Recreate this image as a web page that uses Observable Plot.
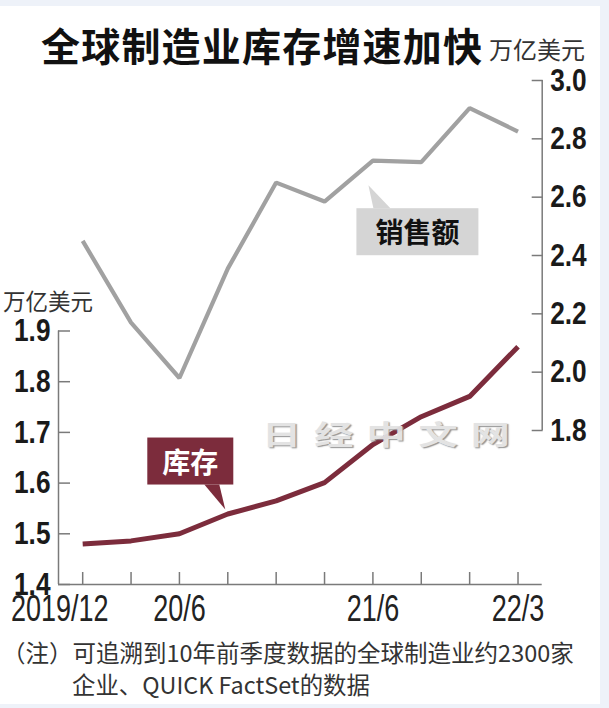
<!DOCTYPE html>
<html><head><meta charset="utf-8">
<script src="https://cdn.jsdelivr.net/npm/d3@7"></script>
<script src="https://cdn.jsdelivr.net/npm/@observablehq/plot@0.6"></script>
<style>
html,body{margin:0;padding:0;background:#eef2f9;width:609px;height:708px;overflow:hidden;}
#panel{position:absolute;left:0;top:6px;width:600px;height:698px;background:#fff;}
.cjk{font-family:"Noto Sans CJK SC","Noto Sans",sans-serif;position:absolute;white-space:nowrap;line-height:1;}
#title{left:41px;top:25px;font-size:39px;font-weight:700;color:#111;letter-spacing:1.2px;}
#unitR{left:489px;top:37px;font-size:24px;color:#333;}
#unitL{left:3px;top:289px;font-size:22.5px;color:#333;}
#chart{position:absolute;left:0;top:70px;width:600px;height:570px;}
#chart svg{position:absolute;left:0;top:0;}
#wm{left:262px;top:420px;font-size:27px;font-weight:700;color:#e2e2e2;letter-spacing:9px;transform:scaleX(1.45);transform-origin:0 0;text-shadow:1px 1px 1px #8c8c8c;opacity:0.95;}
#note1{left:2px;top:641px;font-size:23.5px;color:#333;}
#note2{left:72px;top:673px;font-size:23.4px;color:#333;}
</style></head><body>
<div id="panel"></div>
<div id="chart"></div>
<div id="title" class="cjk">全球制造业库存增速加快</div>
<div id="unitR" class="cjk">万亿美元</div>
<div id="unitL" class="cjk">万亿美元</div>
<div id="wm" class="cjk">日经中文网</div>
<div id="note1" class="cjk">（注）可追溯到10年前季度数据的全球制造业约2300家</div>
<div id="note2" class="cjk">企业、QUICK FactSet的数据</div>
<script>
// ---- data ----
const quarters = ["2019/12","20/3","20/6","20/9","20/12","21/3","21/6","21/9","21/12","22/3"];
const sales = [2.45, 2.17, 1.98, 2.355, 2.65, 2.585, 2.725, 2.72, 2.905, 2.825];
const inventory = [1.48, 1.486, 1.50, 1.539, 1.565, 1.601, 1.676, 1.731, 1.771, 1.869];
const xLabelQuarters = ["20/6","21/6","22/3"];
const xFirstLabel = "2019/12";
const inventoryTicks = [1.4, 1.5, 1.6, 1.7, 1.8, 1.9];
const salesTicks = [1.8, 2.0, 2.2, 2.4, 2.6, 2.8, 3.0];
const salesLabel = "销售额";
const inventoryLabel = "库存";

// ---- layout ----
const W = 600, H = 570;
const numFont = '"Liberation Sans","Arial",sans-serif';
const narrowY = 0.82, narrowX = 0.75;
const cjkFont = '"Noto Sans CJK SC",sans-serif';
const axisColor = "#7a7a7a";
const invColor = "#7c2c3c";
const salesColor = "#a1a1a1";
const idx = quarters.map((q, i) => i);
const xDomain = [-0.5, quarters.length - 0.5];
const xOpts = {type: "linear", domain: xDomain, axis: null};

function callout(label, seriesVals, at, geom, boxFill, textFill) {
  return (index, scales) => {
    const ax = scales.x(at), ay = scales.y(seriesVals[at]);
    const g = d3.create("svg:g");
    g.append("path")
      .attr("d", `M${ax + geom.tip[0]},${ay + geom.tip[1]}L${ax + geom.base[0]},${ay + geom.base[2]}L${ax + geom.base[1]},${ay + geom.base[2]}Z`)
      .attr("fill", boxFill);
    g.append("rect")
      .attr("x", ax + geom.box[0]).attr("y", ay + geom.box[1])
      .attr("width", geom.box[2]).attr("height", geom.box[3])
      .attr("fill", boxFill);
    g.append("text")
      .attr("x", ax + geom.text[0]).attr("y", ay + geom.text[1])
      .attr("text-anchor", "middle").attr("dominant-baseline", "central")
      .attr("font-family", cjkFont).attr("font-weight", 700).attr("font-size", 28)
      .attr("fill", textFill).text(label);
    return g.node();
  };
}

const salesPlot = Plot.plot({
  width: W, height: H,
  marginLeft: 58, marginRight: 58.3, marginTop: 10, marginBottom: 210,
  style: {background: "transparent", overflow: "visible"},
  x: xOpts,
  y: {domain: [salesTicks[0], salesTicks[salesTicks.length - 1]], axis: null},
  marks: [
    Plot.ruleX([xDomain[1]], {y1: salesTicks[0], y2: salesTicks[salesTicks.length - 1], stroke: axisColor, strokeWidth: 1.5}),
    Plot.axisY(salesTicks, {anchor: "right", tickSize: -11, fill: "none", stroke: axisColor, strokeWidth: 1.5, label: null}),
    Plot.axisY(salesTicks, {anchor: "right", tickSize: 0, tickPadding: 8, label: null, tickFormat: d3.format(".1f"),
      fontSize: 32, fontWeight: 700, fontFamily: numFont, fill: "#1a1a1a"}),
    Plot.line(sales, {x: (d, i) => i, y: d => d, stroke: salesColor, strokeWidth: 4.2, strokeLinejoin: "miter", strokeLinecap: "butt"}),
    callout(salesLabel, sales, 6, {tip: [-4, 25], base: [1, 18, 48], box: [-16, 48, 122, 47], text: [45, 71]}, "#d5d5d5", "#111")
  ]
});

const invPlot = Plot.plot({
  width: W, height: H,
  marginLeft: 58, marginRight: 58.3, marginTop: 260.5, marginBottom: 56,
  style: {background: "transparent", overflow: "visible"},
  x: xOpts,
  y: {domain: [inventoryTicks[0], inventoryTicks[inventoryTicks.length - 1]], axis: null},
  marks: [
    Plot.ruleY([inventoryTicks[0]], {stroke: axisColor, strokeWidth: 1.5}),
    Plot.ruleX([xDomain[0]], {y1: inventoryTicks[0], y2: inventoryTicks[inventoryTicks.length - 1], stroke: axisColor, strokeWidth: 1.5}),
    Plot.axisY(inventoryTicks, {anchor: "left", tickSize: -12, fill: "none", stroke: axisColor, strokeWidth: 1.5, label: null}),
    Plot.axisY(inventoryTicks, {anchor: "left", tickSize: 0, tickPadding: 8, label: null, tickFormat: d3.format(".1f"),
      fontSize: 32, fontWeight: 700, fontFamily: numFont, fill: "#1a1a1a"}),
    Plot.axisX(idx, {anchor: "bottom", tickSize: -12, fill: "none", stroke: axisColor, strokeWidth: 1.5, label: null}),
    Plot.axisX(xLabelQuarters.map(q => quarters.indexOf(q)), {anchor: "bottom", tickSize: 0, tickPadding: 11, label: null,
      tickFormat: i => quarters[i], fontSize: 36, fontFamily: numFont, fill: "#222"}),
    Plot.axisX([quarters.indexOf(xFirstLabel)], {anchor: "bottom", tickSize: 0, tickPadding: 11, label: null, dx: -23,
      tickFormat: i => quarters[i], fontSize: 36, fontFamily: numFont, fill: "#222"}),
    Plot.line(inventory, {x: (d, i) => i, y: d => d, stroke: invColor, strokeWidth: 5, strokeLinejoin: "round", strokeLinecap: "butt"}),
    callout(inventoryLabel, inventory, 3, {tip: [-2, -4], base: [-23, -8, -29], box: [-80, -76, 86, 47], text: [-37, -53]}, invColor, "#fff")
  ]
});

// narrow the numeric tick labels (condensed look of the original)
for (const svg of [salesPlot, invPlot]) {
  svg.querySelectorAll('g[aria-label="y-axis tick label"] text').forEach(t => {
    t.setAttribute("transform", (t.getAttribute("transform") || "") + ` scale(${narrowY},1)`);
  });
  svg.querySelectorAll('g[aria-label="x-axis tick label"] text').forEach(t => {
    t.setAttribute("transform", (t.getAttribute("transform") || "") + ` scale(${narrowX},1)`);
  });
}

const chart = document.getElementById("chart");
chart.appendChild(salesPlot);
chart.appendChild(invPlot);
</script>
</body></html>
